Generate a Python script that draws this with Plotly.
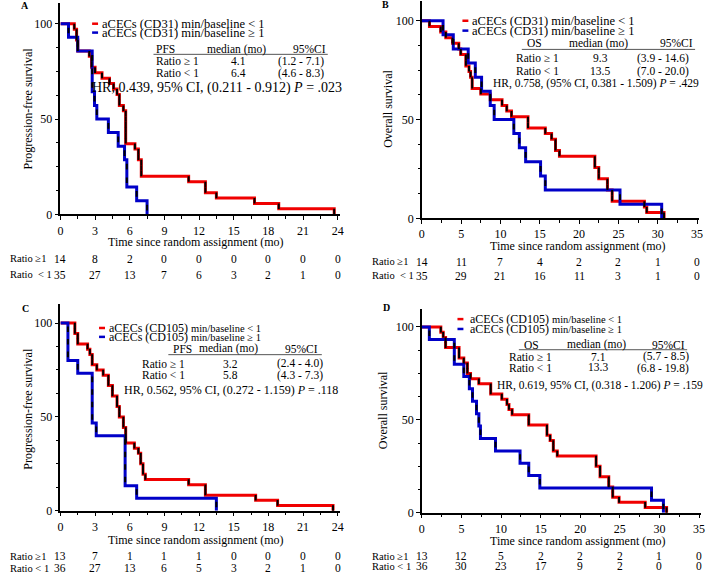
import plotly.graph_objects as go

W, H = 709, 579
FONT = "Liberation Serif, Times New Roman, serif"
RED = "#f00000"
BLUE = "#0000c8"

# ---------------- data (survival %, step after each time) ----------------
# Panel A: PFS, CD31
a_red_t = [0, 1.2, 1.4, 1.5, 2.5, 2.7, 3.0, 3.6, 4.25, 4.6, 4.9, 5.1, 5.45, 5.65, 6.45, 6.75, 7.0, 11.1, 12.55, 13.5, 16.8, 18.9, 23.7]
a_red_s = [100, 97.1, 91.4, 85.7, 82.9, 77.1, 74.3, 71.4, 68.6, 65.7, 62.9, 57.1, 54.3, 37.1, 34.3, 28.6, 20.0, 17.1, 11.4, 8.6, 5.7, 2.9, 0]
a_blue_t = [0, 0.7, 1.5, 2.75, 2.95, 3.15, 4.15, 5.0, 5.55, 5.75, 6.6, 7.5]
a_blue_s = [100, 92.9, 85.7, 64.3, 57.1, 50.0, 42.9, 35.7, 28.6, 14.3, 7.1, 0]

# Panel B: OS, CD31
b_red_t = [0, 0.97, 2.4, 3.05, 3.9, 4.7, 4.95, 5.6, 6.0, 6.2, 6.4, 7.5, 8.7, 10.2, 10.8, 11.4, 13.5, 15.7, 16.5, 17.0, 17.5, 22.0, 22.5, 23.6, 24.2, 28.3, 28.6, 30.8]
b_red_s = [100, 97.1, 94.3, 91.4, 88.6, 85.7, 82.9, 77.1, 74.3, 71.4, 65.7, 62.9, 60.0, 57.1, 54.3, 51.4, 45.7, 42.9, 40.0, 34.3, 31.4, 25.7, 20.0, 14.3, 8.6, 5.7, 2.9, 0]
b_blue_t = [0, 2.7, 4.0, 5.9, 6.8, 7.6, 8.7, 9.2, 11.7, 12.4, 13.2, 15.1, 15.7, 25.2, 30.5]
b_blue_s = [100, 92.9, 85.7, 78.6, 71.4, 64.3, 57.1, 50.0, 42.9, 35.7, 28.6, 21.4, 14.3, 7.1, 0]

# Panel C: PFS, CD105
c_red_t = [0, 1.25, 1.5, 2.35, 2.55, 2.75, 3.15, 3.7, 4.15, 4.5, 4.9, 5.1, 5.45, 5.65, 6.4, 6.75, 6.95, 7.15, 7.35, 11.1, 12.55, 16.9, 18.8, 23.6]
c_red_s = [100, 94.4, 88.9, 86.1, 83.3, 77.8, 75.0, 72.2, 66.7, 61.1, 55.6, 50.0, 44.4, 36.1, 33.3, 30.6, 25.0, 19.4, 16.7, 13.9, 8.3, 5.6, 2.8, 0]
c_blue_t = [0, 0.65, 1.5, 2.75, 3.1, 5.6, 6.6, 13.5]
c_blue_s = [100, 80.0, 73.3, 46.7, 40.0, 13.3, 6.7, 0]

# Panel D: OS, CD105
d_red_t = [0, 2.4, 2.7, 3.0, 4.7, 5.3, 5.75, 6.15, 7.2, 8.7, 10.1, 10.75, 11.0, 11.4, 13.5, 15.8, 16.2, 16.6, 17.1, 22.0, 22.5, 23.6, 24.1, 24.9, 28.2, 30.9]
d_red_s = [100, 97.2, 94.4, 88.9, 83.3, 80.6, 75.0, 72.2, 69.4, 63.9, 61.1, 58.3, 55.6, 52.8, 47.2, 41.7, 38.9, 33.3, 30.6, 25.0, 19.4, 13.9, 8.3, 5.6, 2.8, 0]
d_blue_t = [0, 0.95, 4.1, 5.3, 6.0, 6.4, 6.9, 7.2, 7.4, 9.3, 12.4, 13.5, 14.9, 29.0, 30.5]
d_blue_s = [100, 93.3, 80.0, 73.3, 66.7, 60.0, 53.3, 46.7, 40.0, 33.3, 26.7, 20.0, 13.3, 6.7, 0]

group_sizes = {"a_red": 35, "a_blue": 14, "b_red": 35, "b_blue": 14,
               "c_red": 36, "c_blue": 15, "d_red": 36, "d_blue": 15}

# numbers at risk
a_risk_t = [0, 3, 6, 9, 12, 15, 18, 21, 24]
a_risk_hi = [14, 8, 2, 0, 0, 0, 0, 0, 0]
a_risk_lo = [35, 27, 13, 7, 6, 3, 2, 1, 0]
b_risk_t = [0, 5, 10, 15, 20, 25, 30, 35]
b_risk_hi = [14, 11, 7, 4, 2, 2, 1, 0]
b_risk_lo = [35, 29, 21, 16, 11, 3, 1, 0]
c_risk_t = [0, 3, 6, 9, 12, 15, 18, 21, 24]
c_risk_hi = [13, 7, 1, 1, 1, 0, 0, 0, 0]
c_risk_lo = [36, 27, 13, 6, 5, 3, 2, 1, 0]
d_risk_t = [0, 5, 10, 15, 20, 25, 30, 35]
d_risk_hi = [13, 12, 5, 2, 2, 2, 1, 0]
d_risk_lo = [36, 30, 23, 17, 9, 2, 0, 0]

x_title = "Time since random assignment (mo)"

# ---------------- helpers ----------------
def fx(px):
    return px / W

def fy(py):
    return 1 - py / H

fig = go.Figure()
annotations = []
shapes = []

def txt(x, y, s, size=12, xanchor="left", yanchor="middle", **kw):
    annotations.append(dict(x=fx(x), y=fy(y), xref="paper", yref="paper", text=s,
                            showarrow=False, xanchor=xanchor, yanchor=yanchor,
                            font=dict(family=FONT, size=size, color="black"), **kw))

def censor_marks(t, s, n):
    xs, ys = [], []
    step = 100.0 / n
    for i in range(1, len(t)):
        k = max(1, round((s[i - 1] - s[i]) / step))
        for j in range(k):
            xs.append(t[i])
            ys.append(s[i - 1] - step * (j + 0.5))
    return xs, ys

panels = [
    dict(key="a", ax="", x0=58, x1=340.5, ybot=217, ytop=3, tick0=(58, 338), y100=24,
         xmax_tick=24, dtick=3, minor=1.5),
    dict(key="b", ax="2", x0=423, x1=703, ybot=221, ytop=1, tick0=(423, 701), y100=21,
         xmax_tick=35, dtick=5, minor=2.5),
    dict(key="c", ax="3", x0=58, x1=340.5, ybot=517, ytop=308, tick0=(58, 338), y100=327,
         xmax_tick=24, dtick=3, minor=1.5),
    dict(key="d", ax="4", x0=423, x1=705, ybot=519, ytop=313, tick0=(423, 703), y100=331,
         xmax_tick=35, dtick=5, minor=2.5),
]

data = {
    "a": (a_red_t, a_red_s, a_blue_t, a_blue_s),
    "b": (b_red_t, b_red_s, b_blue_t, b_blue_s),
    "c": (c_red_t, c_red_s, c_blue_t, c_blue_s),
    "d": (d_red_t, d_red_s, d_blue_t, d_blue_s),
}

layout_axes = {}
for p in panels:
    k = p["key"]
    xa = "xaxis" + p["ax"]
    ya = "yaxis" + p["ax"]
    xref = "x" + p["ax"]
    yref = "y" + p["ax"]
    px_per = (p["tick0"][1] - p["tick0"][0]) / p["xmax_tick"]
    xmax = (p["x1"] - p["x0"]) / px_per
    ymax = 100.0 * (p["ybot"] - p["ytop"]) / (p["ybot"] - p["y100"])
    common = dict(showline=True, linecolor="black", linewidth=1.5, showgrid=False,
                  zeroline=False, ticks="outside", ticklen=4, tickwidth=1.2,
                  tickcolor="black", tickfont=dict(family=FONT, size=12, color="black"))
    layout_axes[xa] = dict(domain=[fx(p["x0"]), fx(p["x1"])], range=[0, xmax],
                           anchor=yref, tickmode="array",
                           tickvals=list(range(0, p["xmax_tick"] + 1, p["dtick"])),
                           minor=dict(dtick=p["minor"], tick0=0, ticks="outside", ticklen=2.5,
                                      tickwidth=1, tickcolor="black"),
                           **common)
    layout_axes[ya] = dict(domain=[fy(p["ybot"]), fy(p["ytop"])], range=[0, ymax],
                           anchor=xref, tickmode="array", tickvals=[0, 50, 100],
                           minor=dict(dtick=12.5, tick0=0, ticks="outside", ticklen=2.5,
                                      tickwidth=1, tickcolor="black"),
                           **common)
    rt, rs, bt, bs = data[k]
    for (t, s, col) in [(rt, rs, RED), (bt, bs, BLUE)]:
        fig.add_trace(go.Scatter(x=t, y=s, mode="lines", line=dict(color=col, width=3, shape="hv"),
                                 xaxis=xref, yaxis=yref, showlegend=False, hoverinfo="skip"))
    for (t, s, nm) in [(rt, rs, k + "_red"), (bt, bs, k + "_blue")]:
        mx, my = censor_marks(t, s, group_sizes[nm])
        fig.add_trace(go.Scatter(x=mx, y=my, mode="markers",
                                 marker=dict(symbol="line-ns", size=4,
                                             line=dict(color="black", width=2)),
                                 xaxis=xref, yaxis=yref, showlegend=False, hoverinfo="skip"))

fig.update_layout(**layout_axes)

# ---------------- text ----------------
def legend(x_dash, x_text, y1, y2, label, mixed=False):
    for y, col, sym in [(y1, RED, "<"), (y2, BLUE, "≥")]:
        shapes.append(dict(type="line", xref="paper", yref="paper", x0=fx(x_dash), x1=fx(x_dash + 6),
                           y0=fy(y), y1=fy(y), line=dict(color=col, width=2.5)))
        if mixed:
            s = (f"aCECs ({label}) <span style='font-size:10.5px'>min/baseline {sym} 1</span>")
            txt(x_text, y, s, size=12)
        else:
            txt(x_text, y, f"aCECs ({label}) min/baseline {sym} 1", size=12.5)

def table(head, hx, mx, cx, ux0, ux1, yh, uy, rx, y1, y2, med1, med2, ci1, ci2, cix, hrx, hry, hr,
          hrsize, ym2=None):
    txt(hx, yh, head, size=11.5)
    txt(mx, yh, "median (mo)", size=11.5, xanchor="center")
    txt(cx, yh, "95%CI", size=11.5, xanchor="right")
    shapes.append(dict(type="line", xref="paper", yref="paper", x0=fx(ux0), x1=fx(ux1),
                       y0=fy(uy), y1=fy(uy), line=dict(color="#555555", width=1)))
    txt(rx, y1, "Ratio ≥ 1", size=11.5)
    txt(rx, y2, "Ratio < 1", size=11.5)
    txt(mx + 2, y1, med1, size=11.5, xanchor="center")
    txt(mx + 2, ym2 if ym2 else y2, med2, size=11.5, xanchor="center")
    txt(cix, y1, ci1, size=11.5, xanchor="right")
    txt(cix, y2, ci2, size=11.5, xanchor="right")
    txt(hrx, hry, hr, size=hrsize)

# Panel A
txt(22, 6, "<b>A</b>", size=10, xanchor="center")
legend(90, 98, 24, 33, "CD31")
table("PFS", 153, 236, 328, 152, 328, 50, 55, 153, 62, 74, "4.1", "6.4",
      "(1.2 - 7.1)", "(4.6 - 8.3)", 326, 88, 89,
      "HR, 0.439, 95% CI, (0.211 - 0.912) <i>P</i> = .023", 14)
# Panel B
txt(386, 5, "<b>B</b>", size=10, xanchor="center")
legend(464, 472, 21, 31, "CD31")
table("OS", 527, 601, 699, 524, 699, 44, 50, 516, 59, 72, "9.3", "13.5",
      "(3.9 - 14.6)", "(7.0 - 20.0)", 695, 493, 85,
      "HR, 0.758, (95% CI, 0.381 - 1.509) <i>P</i> = .429", 11.5)
# Panel C
txt(23, 312, "<b>C</b>", size=10, xanchor="center")
legend(97, 105, 332, 341, "CD105", mixed=True)
table("PFS", 170, 228, 320, 167, 322, 353, 359, 138, 368, 380, "3.2", "5.8",
      "(2.4 - 4.0)", "(4.3 - 7.3)", 325, 120, 395,
      "HR, 0.562, 95% CI, (0.272 - 1.159) <i>P</i> = .118", 12)
# Panel D
txt(387, 311, "<b>D</b>", size=10, xanchor="center")
legend(459, 470, 323, 333, "CD105", mixed=True)
table("OS", 524, 599, 691, 521, 691, 349, 354, 509, 361, 373, "7.1", "13.3",
      "(5.7 - 8.5)", "(6.8 - 19.8)", 695, 497, 390,
      "HR, 0.619, 95% CI, (0.318 - 1.206) <i>P</i> = .159", 11.5, ym2=371)

# axis titles
for (cx, cy) in [(195, 245), (581, 249), (195, 547), (581, 548)]:
    txt(cx, cy, x_title, size=12, xanchor="center")
for (cx, cy, s) in [(25, 110, "Progression-free survival"), (389, 110, "Overall survival"),
                    (25, 414, "Progression-free survival"), (384, 415, "Overall survival")]:
    txt(cx, cy, s, size=12, xanchor="center", textangle=-90)

# numbers at risk
risk = [
    ("", 5, 262, 278, a_risk_t, a_risk_hi, a_risk_lo, "Ratio ≥1", "Ratio\u00a0 < 1"),
    ("2", 371, 265, 279, b_risk_t, b_risk_hi, b_risk_lo, "Ratio ≥1", "Ratio\u00a0 < 1"),
    ("3", 5, 563, 575, c_risk_t, c_risk_hi, c_risk_lo, "Ratio ≥1", "Ratio < 1"),
    ("4", 371, 563, 573, d_risk_t, d_risk_hi, d_risk_lo, "Ratio ≥1", "Ratio < 1"),
]
for ax, lx, y1, y2, rt, hi, lo, l1, l2 in risk:
    txt(lx, y1, l1, size=10.5)
    txt(lx, y2, l2, size=10.5)
    for tv, h, l in zip(rt, hi, lo):
        for yy, v in [(y1, h), (y2, l)]:
            annotations.append(dict(x=tv, y=fy(yy), xref="x" + ax, yref="paper", text=str(v),
                                    showarrow=False, xanchor="center", yanchor="middle",
                                    font=dict(family=FONT, size=11.5, color="black")))

fig.update_layout(width=W, height=H, margin=dict(l=0, r=0, t=0, b=0, pad=0),
                  paper_bgcolor="white", plot_bgcolor="white",
                  annotations=annotations, shapes=shapes, showlegend=False,
                  font=dict(family=FONT, color="black"))
fig.write_html("out.html", config={"displayModeBar": False},
               post_script="document.body.style.margin='0';document.body.style.overflow='hidden';")
